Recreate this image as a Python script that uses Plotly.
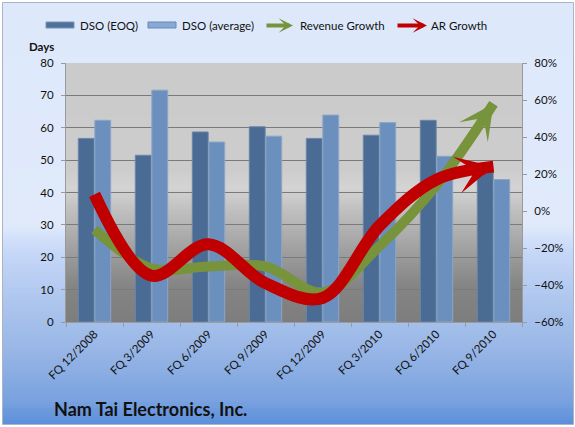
import math
import plotly.graph_objects as go

quarters = ["FQ 12/2008", "FQ 3/2009", "FQ 6/2009", "FQ 9/2009",
            "FQ 12/2009", "FQ 3/2010", "FQ 6/2010", "FQ 9/2010"]
dso_eoq = [56.7, 51.5, 58.7, 60.3, 56.7, 57.7, 62.3, 47.1]
dso_avg = [62.3, 71.6, 55.6, 57.4, 63.9, 61.6, 51.2, 44.0]
revenue_growth = [-10, -31, -30, -30, -44, -19, 14, 58]
ar_growth = [9, -35, -18, -39, -47, -8, 17, 24]

W, H = 575, 427
L, R, T, B = 66, 522, 63, 322  # plot area in pixels
Y2MIN, Y2MAX = -60, 80


def px(x):
    return (x - L) / (R - L)


def py(y):
    return (B - y) / (B - T)


def hex2rgb(h):
    h = h.lstrip('#')
    return tuple(int(h[i:i + 2], 16) for i in (0, 2, 4))


def interp(stops, y):
    for (y0, c0), (y1, c1) in zip(stops, stops[1:]):
        if y0 <= y <= y1:
            t = (y - y0) / (y1 - y0) if y1 > y0 else 0
            a, b = hex2rgb(c0), hex2rgb(c1)
            return 'rgb(%d,%d,%d)' % tuple(round(a[i] + (b[i] - a[i]) * t) for i in range(3))
    return stops[-1][1]


shapes = []


def gradient(x0, x1, y0, y1, stops, step=2):
    y = y0
    while y < y1:
        ye = min(y + step, y1)
        col = interp(stops, (y + ye) / 2)
        shapes.append(dict(type='rect', xref='paper', yref='paper', layer='below',
                           x0=px(x0), x1=px(x1), y0=py(ye + 0.6), y1=py(y),
                           fillcolor=col, line=dict(width=0)))
        y = ye


paper_stops = [(2, '#dde8fb'), (225, '#e0eafb'), (250, '#c7d8f8'), (300, '#aec6ee'),
               (350, '#98b6e6'), (400, '#7aa2df'), (424, '#5b8fdb')]
plot_stops = [(63, '#cbcbcb'), (170, '#cccccc'), (188, '#d4d4d4'), (205, '#c4c4c4'),
              (240, '#a8a8a8'), (285, '#858585'), (322, '#7d7d7d')]
gradient(3, 573, 3, 424, paper_stops, step=3)
gradient(L, R, T, B, plot_stops, step=2)
shapes.append(dict(type='rect', xref='paper', yref='paper', layer='below',
                   x0=px(2.5), x1=px(573.5), y0=py(424.5), y1=py(2.5),
                   line=dict(color='#aab4c6', width=1), fillcolor='rgba(0,0,0,0)'))

# custom legend swatches
shapes.append(dict(type='rect', xref='paper', yref='paper', x0=px(46), x1=px(74),
                   y0=py(28), y1=py(22), fillcolor='#4f7098', line=dict(color='#7d93b3', width=1)))
shapes.append(dict(type='rect', xref='paper', yref='paper', x0=px(148), x1=px(176),
                   y0=py(28), y1=py(22), fillcolor='#86a9d6', line=dict(color='#6b88b0', width=1)))

FONT = "Lato"
TXT = "#111111"
FS = 11.5
annotations = []
for x, text in [(78, "DSO (EOQ)"), (180, "DSO (average)"), (298, "Revenue Growth"), (429, "AR Growth")]:
    annotations.append(dict(xref='paper', yref='paper', x=px(x), y=py(25.5), text=text,
                            showarrow=False, xanchor='left', yanchor='middle',
                            font=dict(family=FONT, size=FS, color=TXT)))
for tip, tail, col in [(293, 265, '#77933c'), (427, 396, '#c00000')]:
    annotations.append(dict(xref='paper', yref='paper', x=px(tip), y=py(25.5),
                            ax=tail - tip, ay=0, text='', showarrow=True,
                            arrowhead=3, arrowsize=0.6, arrowwidth=4, arrowcolor=col))
annotations.append(dict(xref='paper', yref='paper', x=px(27), y=py(47), text="<b>Days</b>",
                        showarrow=False, xanchor='left', yanchor='middle',
                        font=dict(family=FONT, size=FS, color=TXT)))
annotations.append(dict(xref='paper', yref='paper', x=px(52), y=py(409),
                        text="<b>Nam Tai Electronics, Inc.</b>", showarrow=False,
                        xanchor='left', yanchor='middle',
                        font=dict(family=FONT, size=18, color=TXT)))

fig = go.Figure()
fig.add_trace(go.Bar(x=quarters, y=dso_eoq, name="DSO (EOQ)",
                     marker=dict(color='#4a6b94', line=dict(color='#6d86a8', width=1))))
fig.add_trace(go.Bar(x=quarters, y=dso_avg, name="DSO (average)",
                     marker=dict(color='#6c90bd', line=dict(color='#8aa6c9', width=1))))

n = len(quarters)


def xpix(i):
    return L + (i + 0.5) * (R - L) / n


def y2pix(v):
    return T + (Y2MAX - v) * (B - T) / (Y2MAX - Y2MIN)


for vals, col, wdt, hs, name in [(revenue_growth, '#77933c', 10, 0.58, "Revenue Growth"),
                                 (ar_growth, '#c00000', 12, 0.52, "AR Growth")]:
    fig.add_trace(go.Scatter(
        x=quarters, y=vals, yaxis='y2', name=name, mode='lines',
        line=dict(color=col, width=wdt, shape='spline', smoothing=1.0, backoff=12),
        cliponaxis=False))
    dx = xpix(n - 1) - xpix(n - 2)
    dy = y2pix(vals[-1]) - y2pix(vals[-2])
    d = math.hypot(dx, dy)
    tail = 24
    annotations.append(dict(xref='x', yref='y2', x=quarters[-1], y=vals[-1],
                            ax=-dx / d * tail, ay=-dy / d * tail, text='', showarrow=True,
                            arrowhead=3, arrowsize=hs, arrowwidth=wdt, arrowcolor=col))

fig.update_layout(
    width=W, height=H,
    margin=dict(l=L, r=W - R, t=T, b=H - B, pad=0),
    paper_bgcolor='white', plot_bgcolor='rgba(0,0,0,0)',
    showlegend=False, barmode='group', bargap=0.42, bargroupgap=0.04,
    shapes=shapes, annotations=annotations,
    font=dict(family=FONT, size=FS, color=TXT),
    xaxis=dict(tickangle=-45, showgrid=False, showline=True, linecolor='#9a9a9a',
               ticks='outside', ticklen=4, tickcolor='#9a9a9a', tickson='boundaries',
               tickfont=dict(family=FONT, size=11.5, color=TXT)),
    yaxis=dict(range=[0, 80], dtick=10, showgrid=True, gridcolor='#7a7a7a', gridwidth=1,
               showline=True, linecolor='#9a9a9a', ticks='outside', ticklen=4,
               tickcolor='#9a9a9a', zeroline=False, ticklabelstandoff=5,
               tickfont=dict(family=FONT, size=FS, color=TXT)),
    yaxis2=dict(range=[Y2MIN, Y2MAX], dtick=20, overlaying='y', side='right', showgrid=False,
                ticksuffix='%', showline=True, linecolor='#9a9a9a', ticks='outside',
                ticklen=4, tickcolor='#9a9a9a', zeroline=False, ticklabelstandoff=5,
                tickfont=dict(family=FONT, size=FS, color=TXT)),
)

fig.write_html("out.html")
